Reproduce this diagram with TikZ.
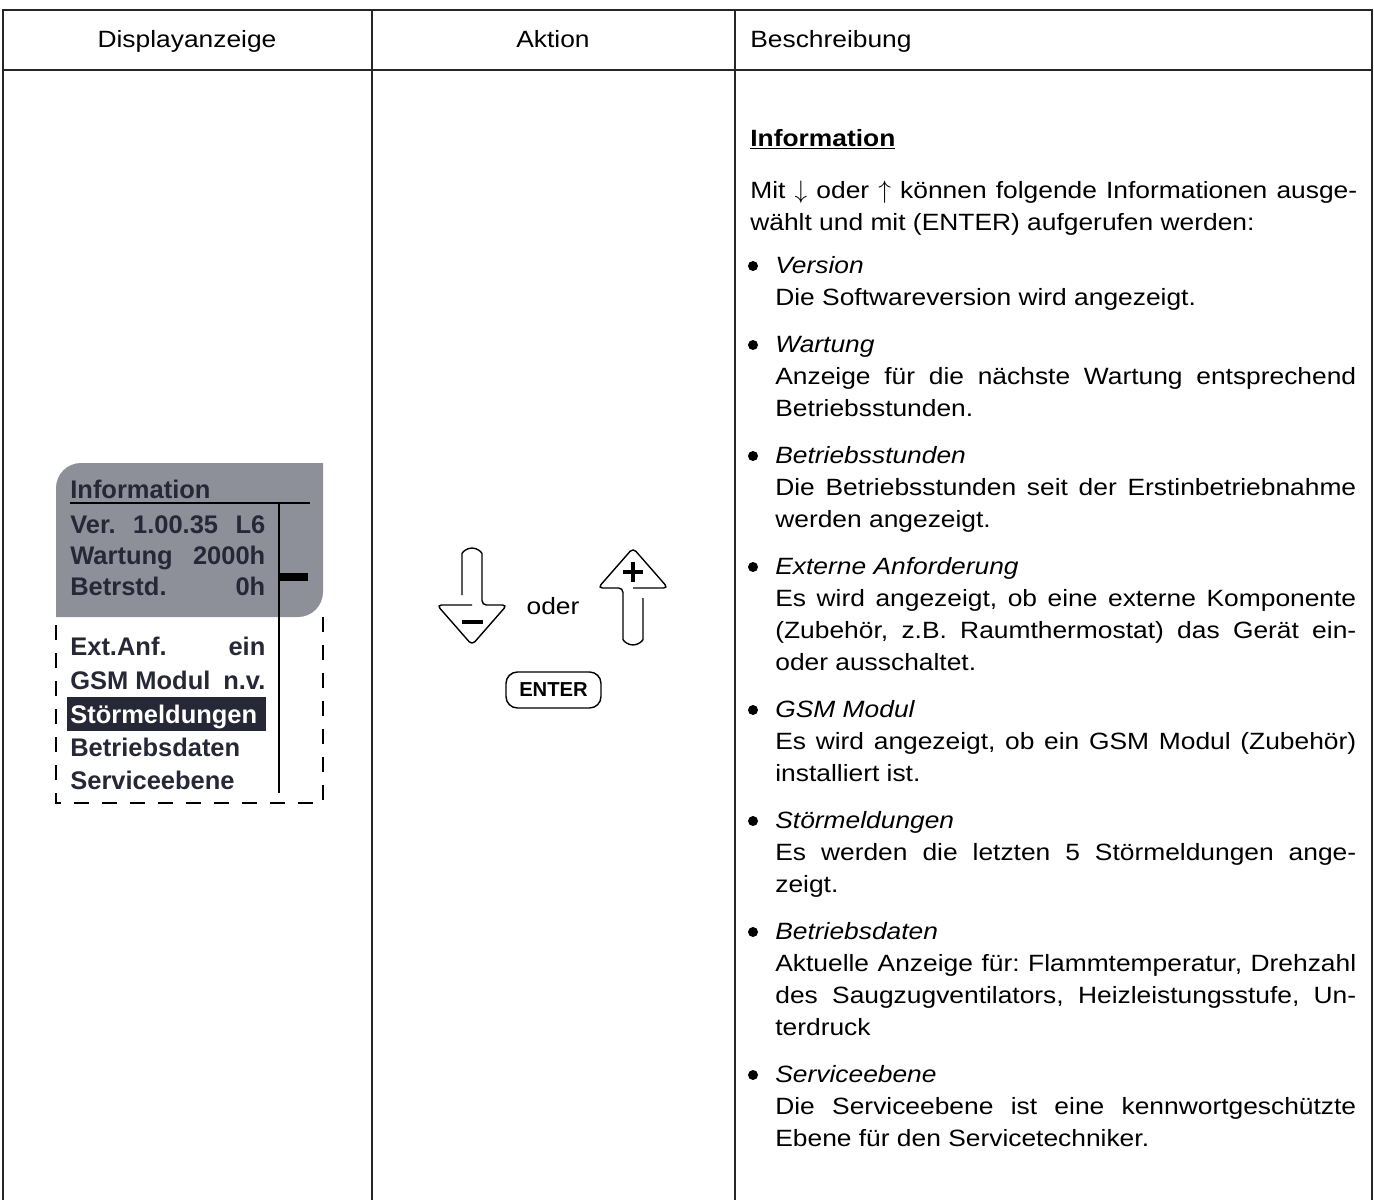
\documentclass[tikz,border=0pt]{standalone}
\usepackage{fontspec}
\setmainfont{Liberation Sans}
\newfontfamily\bodyfont[FakeStretch=1.12]{Liberation Sans}
\usetikzlibrary{positioning}
\newcommand\bodysize{\fontsize{13.4pt}{18.3pt}\selectfont}
\definecolor{lcdgray}{RGB}{141,143,153}
\definecolor{lcdink}{RGB}{38,40,56}
\frenchspacing
\hyphenpenalty=10000
\tolerance=9000
\tikzstyle{tableline}=[draw,line width=0.85pt,black!85]
\tikzstyle{head}=[font={\bodyfont\bodysize},inner sep=0pt,anchor=base]
\tikzstyle{desc}=[anchor=base west,inner sep=0pt,text width=11.62cm,align=justify,font={\bodyfont\bodysize}]
\tikzstyle{intro}=[desc,text width=12.14cm]
\tikzstyle{dot}=[circle,fill=black,inner sep=0pt,minimum size=0.2cm]
\tikzstyle{lcdline}=[anchor=base west,inner sep=0pt,text=lcdink,font=\bfseries\fontsize{14.5pt}{17pt}\selectfont]
\tikzstyle{keyline}=[draw,line width=0.8pt,rounded corners=2.5pt]
\tikzstyle{keysign}=[draw,line width=2.2pt]
\tikzstyle{enterkey}=[draw,line width=0.8pt,rounded corners=6.5pt,minimum width=1.9cm,minimum height=0.72cm,inner sep=0pt,font=\bfseries\fontsize{11.5pt}{11.5pt}\selectfont]

\begin{document}
\begin{tikzpicture}[x=0.02cm,y=0.02cm]
\useasboundingbox (0,0) rectangle (1374,-1200);

% Table
\draw[tableline] (3,-1200) -- (3,-10) -- (1372,-10) -- (1372,-1200);
\draw[tableline] (3,-70) -- (1372,-70);
\draw[tableline] (372,-10) -- (372,-1200);
\draw[tableline] (735,-10) -- (735,-1200);

\node[head] (h1) at (187,-48) {Displayanzeige};
\node[head] (h2) at (553,-48) {Aktion};
\node[head,anchor=base west] (h3) at (750,-48) {Beschreibung};

% Display
\fill[lcdgray] (56,-617) -- (56,-488) arc[start angle=180,end angle=90,radius=25] -- (323,-463) -- (323,-592) arc[start angle=0,end angle=-90,radius=25] -- cycle;
\draw[line width=0.8pt,dash pattern=on 0.3cm off 0.26cm] (323,-617) -- (323,-803) -- (56,-803) -- (56,-617);
\draw[line width=0.7pt] (70,-503) -- (310,-503);
\draw[line width=0.7pt] (279,-503) -- (279,-793);
\fill (279,-573) rectangle (308,-581);
\fill[lcdink] (67,-697) rectangle (266,-731);

\node[lcdline] (lcdtitle) at (70,-498) {Information};
\foreach \y/\name/\txt in {533/ver/{Ver. 1.00.35 L6}, 564/wart/{Wartung 2000h}, 595/betr/{Betrstd. 0h}, 655/ext/{Ext.Anf. ein}, 689/gsm/{\mbox{GSM Modul} n.v.}}
    \node[lcdline] (\name) at (70,-\y) {\makebox[3.9cm][s]{\txt}};
\node[lcdline,text=white] (stoer) at (70,-723) {Störmeldungen};
\foreach \y/\name/\txt in {756/daten/Betriebsdaten, 789/serv/Serviceebene}
    \node[lcdline] (\name) at (70,-\y) {\txt};

% Keys
\draw[keyline] (462,-595) -- (462,-558) arc[start angle=180,end angle=0,radius=10] -- (482,-605) -- (507,-605) -- (472,-645) -- (437,-605) -- (472,-605);
\draw[keysign] (462,-622) -- (483,-622);
\begin{scope}[rotate around={180:(552.5,-596.5)}]
\draw[keyline] (462,-595) -- (462,-558) arc[start angle=180,end angle=0,radius=10] -- (482,-605) -- (507,-605) -- (472,-645) -- (437,-605) -- (472,-605);
\end{scope}
\draw[keysign] (623,-572) -- (643,-572) (633,-562) -- (633,-582);
\node[head] (oder) at (553,-614) {oder};
\node[enterkey] (enter) at (553.5,-690) {ENTER};

% Description
\node[head,anchor=base west] (infohead) at (750,-146) {\bfseries\underline{Information}};
\node[intro] (intro) at (750,-198) {Mit $\downarrow$ oder $\uparrow$ können folgende Informationen ausge-\linebreak wählt und mit (ENTER) aufgerufen werden:};

\foreach \y/\name in {273/dver, 352/dwart, 463/dbstd, 574/dext, 717/dgsm, 828/dstoer, 939/ddaten, 1082/dserv}
    \node[dot] (\name) at (753,-\y+7) {};

\node[desc] (iver) at (775,-273) {\textit{Version}\par Die Softwareversion wird angezeigt.};
\node[desc] (iwart) at (775,-352) {\textit{Wartung}\par Anzeige für die nächste Wartung entsprechend\linebreak Betriebsstunden.};
\node[desc] (ibstd) at (775,-463) {\textit{Betriebsstunden}\par Die Betriebsstunden seit der Erstinbetriebnahme\linebreak werden angezeigt.};
\node[desc] (iext) at (775,-574) {\textit{Externe Anforderung}\par Es wird angezeigt, ob eine externe Komponente\linebreak (Zubehör, z.B. Raumthermostat) das Gerät ein-\linebreak oder ausschaltet.};
\node[desc] (igsm) at (775,-717) {\textit{GSM Modul}\par Es wird angezeigt, ob ein GSM Modul (Zubehör)\linebreak installiert ist.};
\node[desc] (istoer) at (775,-828) {\textit{Störmeldungen}\par Es werden die letzten 5 Störmeldungen ange-\linebreak zeigt.};
\node[desc] (idaten) at (775,-939) {\textit{Betriebsdaten}\par Aktuelle Anzeige für: Flammtemperatur, Drehzahl\linebreak des Saugzugventilators, Heizleistungsstufe, Un-\linebreak terdruck};
\node[desc] (iserv) at (775,-1082) {\textit{Serviceebene}\par Die Serviceebene ist eine kennwortgeschützte\linebreak Ebene für den Servicetechniker.};

\end{tikzpicture}
\end{document}
